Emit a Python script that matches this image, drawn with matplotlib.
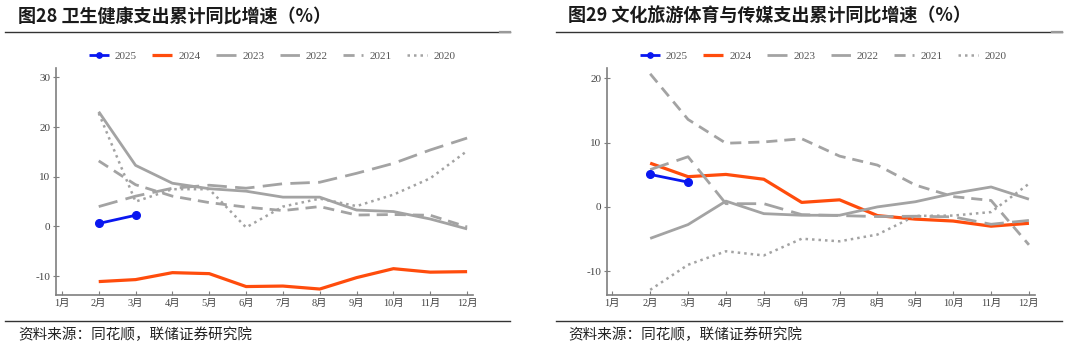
import matplotlib
matplotlib.use("Agg")
import matplotlib.pyplot as plt
from matplotlib.lines import Line2D

plt.rcParams['font.family'] = ['Noto Sans CJK SC', 'DejaVu Sans']

months = list(range(1, 13))
month_labels = [f"{m}月" for m in months]
x_data = list(range(2, 13))

years = ["2025", "2024", "2023", "2022", "2021", "2020"]

# 卫生健康支出累计同比增速（%）
health_2025 = [0.6, 2.25]
health_2024 = [-11.1, -10.7, -9.3, -9.5, -12.1, -12.0, -12.6, -10.3, -8.5, -9.2, -9.1]
health_2023 = [23.1, 12.3, 8.7, 7.6, 7.1, 5.9, 5.9, 3.3, 3.0, 1.5, -0.5]
health_2022 = [4.0, 6.1, 7.7, 8.3, 7.7, 8.6, 8.9, 10.7, 12.7, 15.4, 17.8]
health_2021 = [13.2, 8.4, 6.1, 4.8, 3.9, 3.2, 4.0, 2.3, 2.4, 2.25, -0.1]
health_2020 = [22.8, 5.0, 7.5, 7.5, -0.2, 4.0, 5.6, 4.1, 6.4, 9.7, 15.2]

# 文化旅游体育与传媒支出累计同比增速（%）
culture_2025 = [5.05, 3.85]
culture_2024 = [6.8, 4.7, 5.05, 4.3, 0.7, 1.1, -1.35, -1.9, -2.2, -3.0, -2.55]
culture_2023 = [-4.9, -2.75, 0.9, -1.05, -1.3, -1.3, 0.0, 0.8, 2.1, 3.1, 1.2]
culture_2022 = [5.8, 7.8, 0.5, 0.5, -1.2, -1.35, -1.5, -1.45, -1.55, -2.7, -2.1]
culture_2021 = [20.7, 13.6, 9.9, 10.1, 10.6, 7.9, 6.5, 3.4, 1.6, 1.0, -5.9]
culture_2020 = [-12.9, -9.0, -6.9, -7.55, -4.95, -5.35, -4.3, -1.4, -1.35, -0.8, 3.6]

titles = ["图28 卫生健康支出累计同比增速（%）", "图29 文化旅游体育与传媒支出累计同比增速（%）"]
source_text = "资料来源：同花顺，联储证券研究院"

GRAY = "#a3a3a3"
AXIS_GRAY = "#7f7f7f"
TICK_FONT = ['Liberation Serif', 'Noto Sans CJK SC']

styles = {
    "2025": dict(color="#0a17f0", lw=2.0, marker="o", ms=5.5),
    "2024": dict(color="#ff4c0c", lw=2.3),
    "2023": dict(color=GRAY, lw=2.0),
    "2022": dict(color=GRAY, lw=2.0, dashes=(7, 3)),
    "2021": dict(color=GRAY, lw=2.0, dashes=(4, 2.5)),
    "2020": dict(color=GRAY, lw=1.8, dashes=(1, 1.6)),
}

W, H = 1066, 348
fig = plt.figure(figsize=(W / 100, H / 100), dpi=100)


def fx(px):
    return px / W


def fy(py):
    return 1 - py / H


panels = [
    dict(series=[health_2025, health_2024, health_2023, health_2022, health_2021, health_2020],
         rect=[fx(56), fy(295), fx(473 - 56), (295 - 68) / H],
         xlim=(0.84, 12.16), ylim=(-13.8, 31.9), yticks=[-10, 0, 10, 20, 30],
         title_x=18, rule=(5, 510), src_x=18, legend_cx=272),
    dict(series=[culture_2025, culture_2024, culture_2023, culture_2022, culture_2021, culture_2020],
         rect=[fx(607), fy(295), fx(1035 - 607), (295 - 68) / H],
         xlim=(0.86, 12.16), ylim=(-13.7, 21.6), yticks=[-10, 0, 10, 20],
         title_x=568, rule=(556, 1062), src_x=568, legend_cx=823),
]

for p, title in zip(panels, titles):
    ax = fig.add_axes(p["rect"])
    handles = []
    for yr, vals in zip(years, p["series"]):
        st = dict(styles[yr])
        dashes = st.pop("dashes", None)
        xs = x_data[:len(vals)]
        line, = ax.plot(xs, vals, label=yr, solid_capstyle="butt", **st)
        if dashes is not None:
            line.set_dashes(dashes)
        handles.append(line)
    # 2025 drawn on top
    handles[0].set_zorder(5)

    ax.set_xlim(*p["xlim"])
    ax.set_ylim(*p["ylim"])
    ax.set_xticks(months)
    ax.set_xticklabels(month_labels, family=TICK_FONT, fontsize=7.5, color="#444444")
    ax.set_yticks(p["yticks"])
    ax.set_yticklabels([str(v) for v in p["yticks"]], family=TICK_FONT, fontsize=8, color="#444444")
    for side in ("top", "right"):
        ax.spines[side].set_visible(False)
    for side in ("left", "bottom"):
        ax.spines[side].set_color(AXIS_GRAY)
        ax.spines[side].set_linewidth(1.2)
    ax.tick_params(axis="x", direction="in", length=3, color=AXIS_GRAY, pad=3)
    ax.tick_params(axis="y", direction="inout", length=4, color=AXIS_GRAY, pad=2)

    leg = fig.legend(handles=handles, labels=years, loc="center",
                     bbox_to_anchor=(fx(p["legend_cx"]), fy(56)), ncol=6, frameon=False,
                     prop=dict(family=TICK_FONT, size=8), handlelength=1.8,
                     handletextpad=0.55, columnspacing=1.4, labelcolor="#555555",
                     markerscale=0.7)

    fig.text(fx(p["title_x"]), fy(16), title, fontsize=13, fontweight="bold",
             ha="left", va="center", color="#1a1a1a")
    fig.text(fx(p["src_x"]), fy(335), source_text, fontsize=10.5,
             ha="left", va="center", color="#222222")

    x0, x1 = p["rule"]
    for ypx in (32, 321):
        fig.add_artist(Line2D([fx(x0), fx(x1)], [fy(ypx), fy(ypx)],
                              color="#333333", lw=1.0, transform=fig.transFigure))
    fig.add_artist(Line2D([fx(x1 - 10), fx(x1)], [fy(32), fy(32)],
                          color="#999999", lw=1.6, transform=fig.transFigure))

fig.savefig("out.png", dpi=100, facecolor="white")
